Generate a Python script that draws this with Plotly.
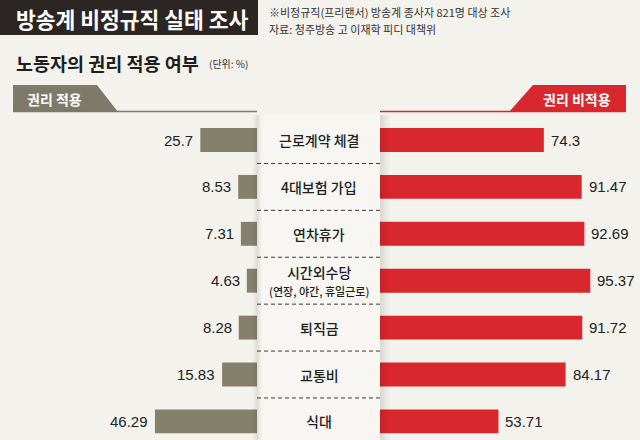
import plotly.graph_objects as go

# ---- data ----
categories = ["근로계약 체결", "4대보험 가입", "연차휴가", "시간외수당", "퇴직금", "교통비", "식대"]
category_notes = ["", "", "", "(연장, 야간, 휴일근로)", "", "", ""]
applied = [25.7, 8.53, 7.31, 4.63, 8.28, 15.83, 46.29]
not_applied = [74.3, 91.47, 92.69, 95.37, 91.72, 84.17, 53.71]

title = "방송계 비정규직 실태 조사"
note1 = "※비정규직(프리랜서) 방송계 종사자 821명 대상 조사"
note2 = "자료: 청주방송 고 이재학 피디 대책위"
subtitle = "노동자의 권리 적용 여부"
unit = "(단위: %)"
left_name = "권리 적용"
right_name = "권리 비적용"

# ---- style ----
W, H = 640, 440
BG = "#f4f2ec"
DARK = "#2b2624"
OLIVE = "#85806b"
RED = "#d9272e"
KR = "Noto Sans CJK KR, Noto Sans, sans-serif"
NUM = "Liberation Sans Narrow, Arial Narrow, Liberation Sans, Arial, sans-serif"
PXU = 2.205  # pixels per percent
LEFT_END, RIGHT_START = 257, 380
ROW0, ROWSTEP = 140, 46.9


def px(x):
    return x / W


def py(y):
    return 1 - y / H


idx = list(range(len(categories)))

fig = go.Figure()
fig.add_trace(go.Bar(x=applied, y=idx, orientation="h", xaxis="x", yaxis="y",
                     marker=dict(color=OLIVE, line=dict(width=0)), width=0.51,
                     hoverinfo="x", name=left_name))
fig.add_trace(go.Bar(x=not_applied, y=idx, orientation="h", xaxis="x2", yaxis="y",
                     marker=dict(color=RED, line=dict(width=0)), width=0.51,
                     hoverinfo="x", name=right_name))

shapes = []
annotations = []

# header box
shapes.append(dict(type="rect", xref="paper", yref="paper", x0=px(0), x1=px(258),
                   y0=py(35), y1=py(0), fillcolor=DARK, line=dict(width=0), layer="below"))
annotations.append(dict(text=title, xref="paper", yref="paper", x=px(14), y=py(18.5),
                        xanchor="left", yanchor="middle", showarrow=False,
                        font=dict(family=KR, size=21.5, color="white", weight="bold")))
annotations.append(dict(text=note1, xref="paper", yref="paper", x=px(267), y=py(12),
                        xanchor="left", yanchor="middle", showarrow=False,
                        font=dict(family=KR, size=11, color="#333333")))
annotations.append(dict(text=note2, xref="paper", yref="paper", x=px(267), y=py(29),
                        xanchor="left", yanchor="middle", showarrow=False,
                        font=dict(family=KR, size=11, color="#333333")))
annotations.append(dict(text=subtitle, xref="paper", yref="paper", x=px(14), y=py(63),
                        xanchor="left", yanchor="middle", showarrow=False,
                        font=dict(family=KR, size=18.5, color="#1e1e1e", weight="bold")))
annotations.append(dict(text=unit, xref="paper", yref="paper", x=px(207), y=py(63),
                        xanchor="left", yanchor="middle", showarrow=False,
                        font=dict(family=KR, size=10, color="#333333")))

# banners
shapes.append(dict(type="path", xref="paper", yref="paper",
                   path=f"M {px(13)} {py(85)} L {px(97)} {py(85)} L {px(118)} {py(112)} L {px(13)} {py(112)} Z",
                   fillcolor="#7d7a6a", line=dict(width=0)))
shapes.append(dict(type="line", xref="paper", yref="paper", x0=px(13), x1=px(257),
                   y0=py(111.5), y1=py(111.5), line=dict(color="#7d7a6a", width=1.5)))
annotations.append(dict(text=left_name, xref="paper", yref="paper", x=px(25), y=py(98.5),
                        xanchor="left", yanchor="middle", showarrow=False,
                        font=dict(family=KR, size=14, color="white", weight="bold")))
shapes.append(dict(type="path", xref="paper", yref="paper",
                   path=f"M {px(533)} {py(85)} L {px(626)} {py(85)} L {px(626)} {py(112)} L {px(509)} {py(112)} Z",
                   fillcolor=RED, line=dict(width=0)))
shapes.append(dict(type="line", xref="paper", yref="paper", x0=px(380), x1=px(626),
                   y0=py(111.5), y1=py(111.5), line=dict(color=RED, width=1.5)))
annotations.append(dict(text=right_name, xref="paper", yref="paper", x=px(577), y=py(98.5),
                        xanchor="center", yanchor="middle", showarrow=False,
                        font=dict(family=KR, size=14, color="white", weight="bold")))

# center panel
shapes.append(dict(type="rect", xref="paper", yref="paper", x0=px(LEFT_END), x1=px(RIGHT_START),
                   y0=py(440), y1=py(115), fillcolor="#f7f6f2", line=dict(width=0), layer="below"))
for k, a in enumerate([0.10, 0.07, 0.05, 0.03, 0.015]):
    shapes.append(dict(type="rect", xref="paper", yref="paper",
                       x0=px(LEFT_END + k), x1=px(LEFT_END + k + 1), y0=py(440), y1=py(115),
                       fillcolor=f"rgba(0,0,0,{a})", line=dict(width=0), layer="above"))
    shapes.append(dict(type="rect", xref="paper", yref="paper",
                       x0=px(LEFT_END - k - 1), x1=px(LEFT_END - k), y0=py(440), y1=py(115),
                       fillcolor=f"rgba(0,0,0,{a * 0.8})", line=dict(width=0), layer="above"))
    shapes.append(dict(type="rect", xref="paper", yref="paper",
                       x0=px(RIGHT_START + 2 * k), x1=px(RIGHT_START + 2 * k + 2), y0=py(440), y1=py(115),
                       fillcolor=f"rgba(0,0,0,{a})", line=dict(width=0), layer="above"))

# dashed separators
for i in idx[:-1]:
    shapes.append(dict(type="line", xref="paper", yref="y", x0=px(LEFT_END), x1=px(RIGHT_START),
                       y0=i + 0.5, y1=i + 0.5, line=dict(color="#3a3a3a", width=1, dash="4px,3px"),
                       layer="above"))

# category labels
for i, (c, n) in enumerate(zip(categories, category_notes)):
    txt = c if not n else f"{c}<br><span style='font-size:11px'>{n}</span>"
    annotations.append(dict(text=txt, xref="paper", yref="y", x=px(319), y=i,
                            xanchor="center", yanchor="middle", showarrow=False,
                            font=dict(family=KR, size=14, color="#1e1e1e", weight=500)))

# value labels
for i, v in enumerate(applied):
    annotations.append(dict(text=f"{v:g}", xref="x", yref="y", x=v, y=i, xanchor="right",
                            yanchor="middle", xshift=-5, showarrow=False,
                            font=dict(family=NUM, size=15, color="#222222")))
for i, v in enumerate(not_applied):
    annotations.append(dict(text=f"{v:g}", xref="x2", yref="y", x=v, y=i, xanchor="left",
                            yanchor="middle", xshift=5, showarrow=False,
                            font=dict(family=NUM, size=15, color="#222222")))

top = -ROW0 / ROWSTEP
bottom = (H - ROW0) / ROWSTEP

fig.update_layout(
    width=W, height=H,
    margin=dict(l=0, r=0, t=0, b=0),
    paper_bgcolor=BG, plot_bgcolor="rgba(0,0,0,0)",
    showlegend=False,
    barmode="overlay",
    xaxis=dict(domain=[0, px(LEFT_END)], range=[LEFT_END / PXU, 0], visible=False, fixedrange=True),
    xaxis2=dict(domain=[px(RIGHT_START), 1], range=[0, (W - RIGHT_START) / PXU], visible=False,
                anchor="y", fixedrange=True),
    yaxis=dict(domain=[0, 1], range=[bottom, top], visible=False, fixedrange=True),
    shapes=shapes,
    annotations=annotations,
)

fig.write_html("out.html", config={"displayModeBar": False},
               post_script="document.body.style.margin='0';document.body.style.overflow='hidden';")
